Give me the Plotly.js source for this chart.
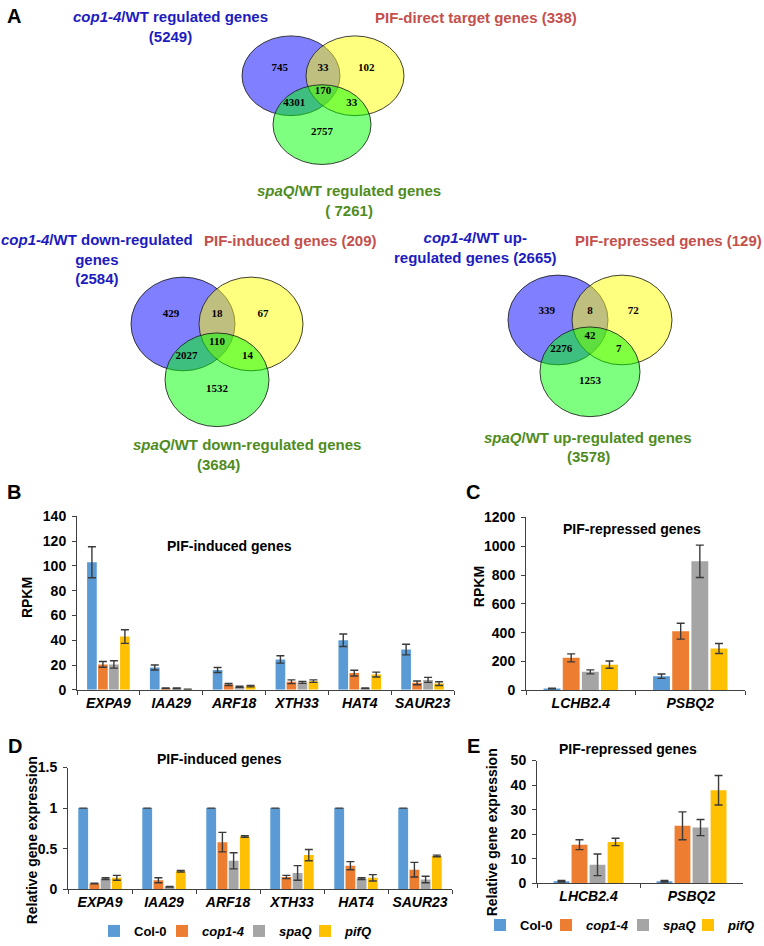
<!DOCTYPE html>
<html><head><meta charset="utf-8">
<script src="https://cdn.plot.ly/plotly-3.0.1.min.js"></script>
<style>html,body{margin:0;padding:0;background:#fff}#chart{width:764px;height:946px}</style>
</head><body><div id="chart"></div>
<script>
// ---------------- DATA ----------------
const genotypes = ['Col-0', '<i>cop1-4</i>', '<i>spaQ</i>', '<i>pifQ</i>'];
const inducedGenes = ['EXPA9', 'IAA29', 'ARF18', 'XTH33', 'HAT4', 'SAUR23'];
const repressedGenesRNA = ['LCHB2.4', 'PSBQ2'];
const repressedGenesQ = ['LHCB2.4', 'PSBQ2'];

// Panel B (RPKM, PIF-induced)
const bCol0 = [103, 18, 16, 24.5, 40, 32.5];
const bCop = [20.5, 1.3, 4.3, 6.5, 13.5, 5.6];
const bSpa = [20.5, 1.1, 2.5, 6.0, 1.3, 8.0];
const bPif = [43, 0.3, 3.0, 7.0, 12.3, 5.0];
const bCol0Err = [12.5, 2.0, 2.0, 3.0, 5.0, 4.3];
const bCopErr = [2.3, 0.3, 0.8, 1.5, 2.3, 1.5];
const bSpaErr = [3.0, 0.3, 0.5, 0.8, 0.3, 2.0];
const bPifErr = [5.5, 0.1, 0.6, 1.0, 2.0, 1.5];

// Panel C (RPKM, PIF-repressed)
const cCol0 = [12, 98];
const cCop = [225, 410];
const cSpa = [128, 895];
const cPif = [178, 290];
const cCol0Err = [2, 15];
const cCopErr = [28, 55];
const cSpaErr = [14, 112];
const cPifErr = [25, 35];

// Panel D (qPCR, PIF-induced)
const dCol0 = [1, 1, 1, 1, 1, 1];
const dCop = [0.07, 0.11, 0.58, 0.15, 0.29, 0.24];
const dSpa = [0.13, 0.03, 0.35, 0.20, 0.13, 0.12];
const dPif = [0.14, 0.22, 0.65, 0.42, 0.14, 0.41];
const dCol0Err = [0, 0, 0, 0, 0, 0];
const dCopErr = [0.005, 0.03, 0.12, 0.02, 0.05, 0.09];
const dSpaErr = [0.01, 0.005, 0.10, 0.09, 0.01, 0.04];
const dPifErr = [0.03, 0.01, 0.01, 0.07, 0.04, 0.01];

// Panel E (qPCR, PIF-repressed)
const eCol0 = [0.8, 0.8];
const eCop = [15.7, 23.4];
const eSpa = [7.5, 22.7];
const ePif = [16.8, 37.9];
const eCol0Err = [0.3, 0.3];
const eCopErr = [2.0, 5.7];
const eSpaErr = [4.4, 3.3];
const ePifErr = [1.5, 6.0];

// Venn counts: [A only, A∩B, B only, A∩B∩C, A∩C, B∩C, C only]
const vennAllCounts = [745, 33, 102, 170, 4301, 33, 2757];
const vennDownCounts = [429, 18, 67, 110, 2027, 14, 1532];
const vennUpCounts = [339, 8, 72, 42, 2276, 7, 1253];

const vennAllLabels = ['<i>cop1-4</i>/WT regulated genes<br>(5249)', 'PIF-direct target genes (338)', '<i>spaQ</i>/WT regulated genes<br>( 7261)'];
const vennDownLabels = ['<i>cop1-4</i>/WT down-regulated<br>genes<br>(2584)', 'PIF-induced genes (209)', '<i>spaQ</i>/WT down-regulated genes', '(3684)'];
const vennUpLabels = ['<i>cop1-4</i>/WT up-<br>regulated genes (2665)', 'PIF-repressed genes (129)', '<i>spaQ</i>/WT up-regulated genes', '(3578)'];

// ---------------- LAYOUT HELPERS ----------------
const W = 764, H = 946;
const PX = x => x / W;
const PY = y => 1 - y / H;
const FONT = 'Liberation Sans, Arial, Helvetica, sans-serif';
const SERIF = 'Liberation Serif, Times New Roman, serif';
const COLORS = ['#5B9BD5', '#ED7D31', '#A5A5A5', '#FFC000'];
const AXC = '#404040';
const BLUE_T = '#1c1cbe', RED_T = '#c4504c', GREEN_T = '#4f8c1e';

const traces = [];
function panel(cats, vals, errs, xa, ya, legendIds) {
  vals.forEach((v, i) => {
    const t = {
      type: 'bar', x: cats, y: v, name: genotypes[i], xaxis: xa, yaxis: ya,
      marker: { color: COLORS[i] },
      error_y: { type: 'data', array: errs[i], visible: true, color: '#3a3a3a', thickness: 1.4, width: 4 },
      hoverinfo: 'skip', showlegend: !!legendIds
    };
    if (legendIds) t.legend = legendIds[i];
    traces.push(t);
  });
}
panel(inducedGenes, [bCol0, bCop, bSpa, bPif], [bCol0Err, bCopErr, bSpaErr, bPifErr], 'x', 'y', null);
panel(repressedGenesRNA, [cCol0, cCop, cSpa, cPif], [cCol0Err, cCopErr, cSpaErr, cPifErr], 'x2', 'y2', null);
panel(inducedGenes, [dCol0, dCop, dSpa, dPif], [dCol0Err, dCopErr, dSpaErr, dPifErr], 'x3', 'y3', ['legend', 'legend2', 'legend3', 'legend4']);
panel(repressedGenesQ, [eCol0, eCop, eSpa, ePif], [eCol0Err, eCopErr, eSpaErr, ePifErr], 'x4', 'y4', ['legend5', 'legend6', 'legend7', 'legend8']);

function yAx(top, bottom, range, dtick, anchor) {
  return {
    domain: [PY(bottom), PY(top)], range: range, dtick: dtick, tick0: 0, anchor: anchor,
    showline: true, linecolor: AXC, linewidth: 1, ticks: 'outside', ticklen: 4, tickcolor: AXC,
    ticklabelstandoff: 3,
    showgrid: false, zeroline: false, fixedrange: true,
    tickfont: { family: FONT, size: 14, weight: 'bold', color: '#000' }
  };
}
function xAx(left, right, anchor) {
  return {
    domain: [PX(left), PX(right)], anchor: anchor, type: 'category', tickangle: 0,
    showline: true, linecolor: AXC, linewidth: 1, ticks: 'outside', tickson: 'boundaries',
    ticklen: 4, tickcolor: AXC, showgrid: false, fixedrange: true,
    tickfont: { family: FONT, size: 14, weight: 'bold', style: 'italic', color: '#000' }
  };
}

// ---------------- VENN ----------------
const venns = [
  { counts: vennAllCounts, A: [291, 76], B: [355, 76], C: [322, 125], rx: 49, ry: 40 },
  { counts: vennDownCounts, A: [183, 325], B: [251, 325], C: [217, 381], rx: 52, ry: 47 },
  { counts: vennUpCounts, A: [558, 321], B: [622, 321], C: [590, 373], rx: 50, ry: 45 }
];
const shapes = [];
const vx = [], vy = [], vt = [];
const fills = ['rgba(0,0,255,0.5)', 'rgba(255,255,0,0.5)', 'rgba(0,255,0,0.5)'];
venns.forEach(v => {
  [v.A, v.B, v.C].forEach((c, i) => {
    shapes.push({
      type: 'circle', xref: 'x5', yref: 'y5', layer: 'below',
      x0: c[0] - v.rx, x1: c[0] + v.rx, y0: c[1] - v.ry, y1: c[1] + v.ry,
      fillcolor: fills[i], line: { color: 'rgba(30,30,30,0.85)', width: 1 }
    });
  });
  const d = (v.B[0] - v.A[0]) / 2, h = v.C[1] - v.A[1], mx = (v.A[0] + v.B[0]) / 2;
  const pos = [
    [v.A[0] - 0.35 * d, v.A[1] - 0.2 * v.ry],
    [mx, v.A[1] - 0.2 * v.ry],
    [v.B[0] + 0.35 * d, v.A[1] - 0.2 * v.ry],
    [mx, v.A[1] + 0.32 * h],
    [v.A[0] + 0.1 * d, v.A[1] + 0.57 * h],
    [v.B[0] - 0.1 * d, v.A[1] + 0.57 * h],
    [v.C[0], v.C[1] + 0.2 * v.ry]
  ];
  pos.forEach((p, i) => { vx.push(p[0]); vy.push(p[1]); vt.push(String(v.counts[i])); });
});
traces.push({
  type: 'scatter', mode: 'text', x: vx, y: vy, text: vt, xaxis: 'x5', yaxis: 'y5',
  textfont: { family: SERIF, size: 11, weight: 'bold', color: '#000' },
  hoverinfo: 'skip', showlegend: false
});

// ---------------- ANNOTATIONS ----------------
const ann = [];
function A(text, x, y, size, color, extra) {
  ann.push(Object.assign({
    text: text, x: PX(x), y: PY(y), xref: 'paper', yref: 'paper', showarrow: false,
    xanchor: 'center', yanchor: 'middle',
    font: { family: FONT, size: size, weight: 'bold', color: color }
  }, extra || {}));
}
// panel letters
A('A', 14, 16, 20, '#000');
A('B', 14, 494, 20, '#000');
A('C', 473, 494, 20, '#000');
A('D', 15, 748, 20, '#000');
A('E', 473, 748, 20, '#000');
// venn titles
A(vennAllLabels[0], 170, 27, 15, BLUE_T);
A(vennAllLabels[1], 476, 18, 15, RED_T);
A(vennAllLabels[2], 349, 201, 15, GREEN_T);
A(vennDownLabels[0], 97, 260, 15, BLUE_T);
A(vennDownLabels[1], 290, 241, 15, RED_T);
A(vennDownLabels[2], 247, 446, 15, GREEN_T);
A(vennDownLabels[3], 218, 466, 15, GREEN_T);
A(vennUpLabels[0], 475, 248, 15, BLUE_T);
A(vennUpLabels[1], 668, 241, 15, RED_T);
A(vennUpLabels[2], 588, 439, 15, GREEN_T);
A(vennUpLabels[3], 588, 458, 15, GREEN_T);
// panel titles
A('PIF-induced genes', 229, 548, 14, '#000');
A('PIF-repressed genes', 632, 531, 14, '#000');
A('PIF-induced genes', 219, 761, 14, '#000');
A('PIF-repressed genes', 628, 751, 14, '#000');
// axis titles
A('RPKM', 27, 600, 14, '#000', { textangle: -90 });
A('RPKM', 479, 588, 14, '#000', { textangle: -90 });
A('Relative gene expression', 32, 843, 14, '#000', { textangle: -90 });
A('Relative gene expression', 492, 835, 14, '#000', { textangle: -90 });

// ---------------- LEGENDS ----------------
// symbol centres (px) for each one-item legend (symbol drawn 20px right of legend x)
const legSymD = [114, 182, 259, 325];
const legSymE = [500, 566, 643, 708];
const layout = {
  width: W, height: H, autosize: false,
  margin: { l: 0, r: 0, t: 0, b: 0, pad: 0 },
  paper_bgcolor: '#fff', plot_bgcolor: 'rgba(0,0,0,0)',
  font: { family: FONT, color: '#000' },
  barmode: 'group', bargap: 0.3, bargroupgap: 0.12,
  showlegend: true,
  xaxis: xAx(77, 454, 'y'), yaxis: yAx(518, 692, [0, 140], 20, 'x'),
  xaxis2: xAx(526, 745, 'y2'), yaxis2: yAx(519, 692.5, [0, 1200], 200, 'x2'),
  xaxis3: xAx(68, 452, 'y3'), yaxis3: yAx(770, 892, [0, 1.5], 0.5, 'x3'),
  xaxis4: xAx(537, 743, 'y4'), yaxis4: yAx(763, 886, [0, 50], 10, 'x4'),
  xaxis5: { domain: [0, 1], range: [0, W], visible: false, fixedrange: true, anchor: 'y5' },
  yaxis5: { domain: [0, 1], range: [H, 0], visible: false, fixedrange: true, anchor: 'x5' },
  shapes: shapes,
  annotations: ann
};
const legIds = ['legend', 'legend2', 'legend3', 'legend4', 'legend5', 'legend6', 'legend7', 'legend8'];
legIds.forEach((id, i) => {
  const isD = i < 4;
  const sx = isD ? legSymD[i] : legSymE[i - 4];
  layout[id] = {
    x: PX(sx - 20), y: PY(isD ? 934 : 928), xref: 'paper', yref: 'paper',
    xanchor: 'left', yanchor: 'middle', orientation: 'h',
    bgcolor: 'rgba(0,0,0,0)', borderwidth: 0,
    font: { family: FONT, size: 13, weight: 'bold', color: '#000' }
  };
});

Plotly.newPlot('chart', traces, layout, { staticPlot: true, displayModeBar: false });
</script>
</body></html>
